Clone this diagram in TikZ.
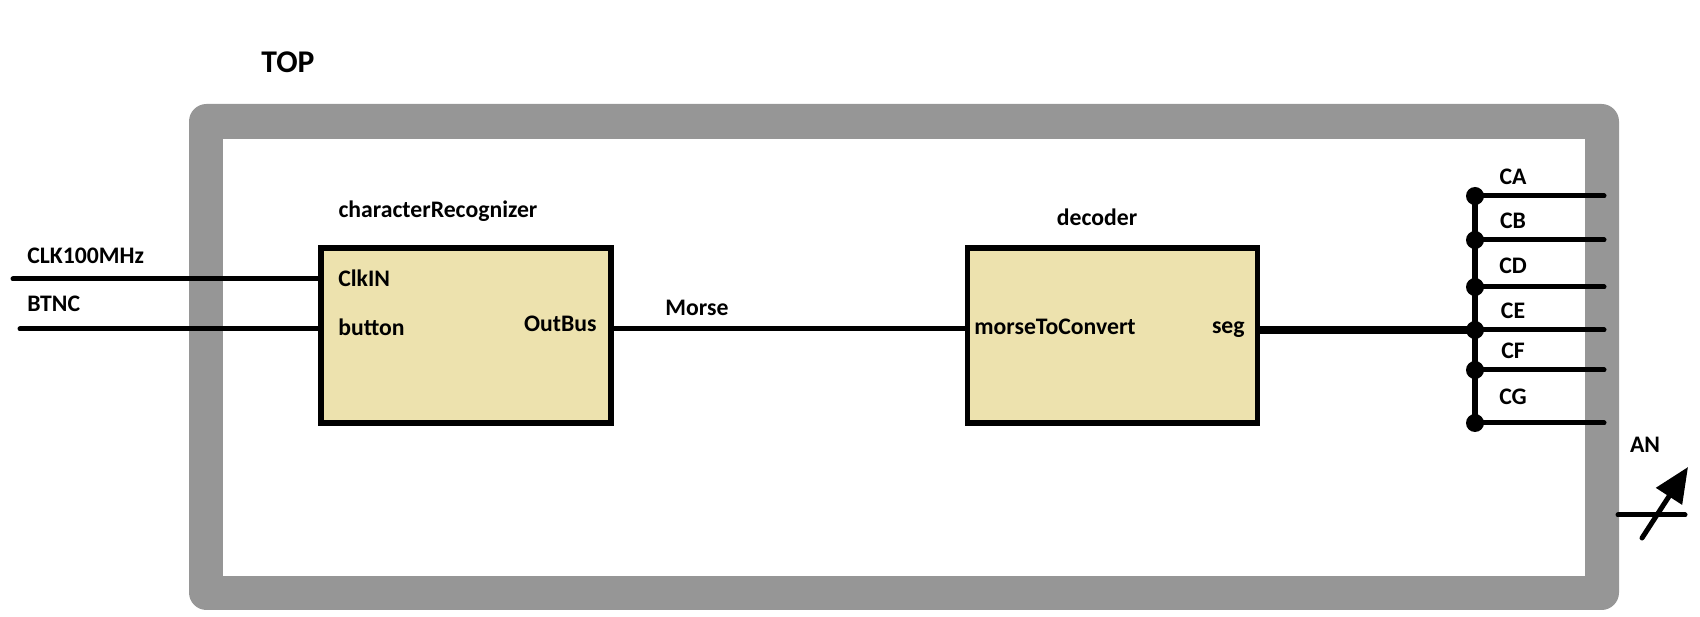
\documentclass[tikz,border=0pt]{standalone}
\usepackage{fontspec}
\setmainfont{Carlito}
\usepackage{tikz}
\usetikzlibrary{positioning, arrows.meta, calc}
\definecolor{framegrey}{RGB}{150,150,150}
\definecolor{blockfill}{RGB}{237,226,174}

\begin{document}
\begin{tikzpicture}[x=0.02cm, y=-0.02cm,
    block/.style={draw=black, fill=blockfill, line width=0.11cm,
                  minimum width=5.8cm, minimum height=3.5cm, inner sep=0pt},
    lbl/.style={font=\fontsize{13.5}{16}\selectfont\bfseries, inner sep=0pt},
    toplbl/.style={font=\fontsize{18}{21}\selectfont\bfseries, inner sep=0pt},
    wire/.style={line width=0.1cm, line cap=round},
    buswire/.style={line width=0.12cm},
    dot/.style={circle, fill=black, minimum size=0.36cm, inner sep=0pt}
  ]
  \useasboundingbox (0,0) rectangle (1700,617);

  % the TOP frame
  \fill[framegrey, rounded corners=0.35cm] (189,104) rectangle (1619,610);
  \fill[white] (223,139) rectangle (1585,576);
  \node[toplbl] (top) at (288,62) {TOP};

  % blocks
  \node[block] (recog) at (466,335.5) {};
  \node[block] (decoder) at (1112.5,335.5) {};
  \node[lbl] (recogname) at (438,211) {characterRecognizer};
  \node[lbl] (decodername) at (1097,217) {decoder};

  % ports
  \node[lbl, anchor=west] (clkin) at (338,278) {ClkIN};
  \node[lbl, anchor=west] (button) at (338,327) {button};
  \node[lbl, anchor=east] (outbus) at (597,324) {OutBus};
  \node[lbl, anchor=west] (mtc) at (974,327) {morseToConvert};
  \node[lbl, anchor=east] (seg) at (1245,330) {seg};

  % inputs
  \coordinate (clkend) at (13,279);
  \coordinate (btnend) at (20,329);
  \node[lbl, anchor=west] (clk) at (27,256) {CLK100MHz};
  \node[lbl, anchor=west] (btnc) at (27,304) {BTNC};
  \draw[wire] (clkend) -- (clkend -| recog.west);
  \draw[wire] (btnend) -- (btnend -| recog.west);

  % Morse
  \node[lbl] (morse) at (697,308) {Morse};
  \draw[wire, line cap=butt] (recog.east |- btnend) -- (decoder.west |- btnend);

  % seven segment outputs
  \foreach \name/\yy/\ly in {CA/196/177, CB/240/221, CD/287/266,
                             CE/330/311, CF/370/351, CG/423/397} {
    \node[dot] (d\name) at (1475,\yy) {};
    \coordinate (o\name) at (1604,\yy);
    \draw[wire] (d\name.center) -- (o\name);
    \node[lbl] (l\name) at (1513,\ly) {\name};
  }
  \draw[buswire] (dCA.center) -- (dCG.center);
  \draw[line width=0.15cm] (decoder.east |- dCE) -- (dCE.center);

  % AN
  \coordinate (anl) at (1618,515);
  \coordinate (anr) at (1685,515);
  \coordinate (anfrom) at (1642,538);
  \coordinate (anto) at (1688,467);
  \node[lbl] (an) at (1645,445) {AN};
  \draw[wire] (anl) -- (anr);
  \draw[wire, -{Triangle[length=0.7cm, width=0.6cm]}] (anfrom) -- (anto);
\end{tikzpicture}
\end{document}
